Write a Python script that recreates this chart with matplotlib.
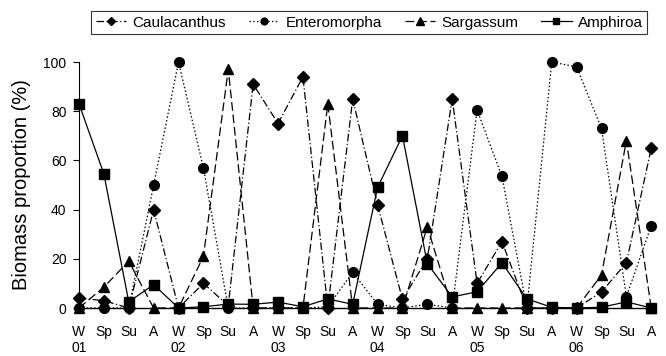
import matplotlib
matplotlib.use("Agg")
from matplotlib import pyplot as plt

plt.rcParams['font.family'] = ['Liberation Sans', 'DejaVu Sans']

seasons = ['W', 'Sp', 'Su', 'A'] * 6
years = ['01', '02', '03', '04', '05', '06']
tick_labels = [s + '\n' + years[i // 4] if s == 'W' else s for i, s in enumerate(seasons)]

caulacanthus = [4, 3, 0, 40, 0, 10, 1, 91, 75, 94, 0, 85,
                42, 3.5, 20, 85, 10, 27, 0, 0, 0, 6.5, 18.4, 65]
enteromorpha = [0, 0, 0, 50, 100, 57, 0, 0, 0, 0, 0.5, 14.5,
                1.5, 0, 1.5, 0, 80.5, 53.5, 0, 100, 98, 73, 4.6, 33.5]
sargassum = [0, 8.5, 19, 0, 0, 21, 97, 0, 0, 0, 83, 0,
             0, 0, 33, 0, 0, 0, 0, 0, 0, 13.4, 68, 0]
amphiroa = [83, 54.5, 2.5, 9.5, 0, 0.5, 1.6, 1.5, 2.4, 0.5, 3.7, 1.5,
            49, 70, 18, 4.5, 6.6, 18.4, 3.7, 0.3, 0, 0.3, 2.5, 0]

x = list(range(len(seasons)))

fig = plt.figure(figsize=(6.66, 3.56), dpi=100)
ax = fig.add_axes([79 / 666, 48 / 356, 576 / 666, 246 / 356])

lw = 0.9
ax.plot(x, caulacanthus, color='black', lw=lw, linestyle=(0, (6, 2, 1, 2)),
        marker='D', markersize=6, label='Caulacanthus', clip_on=False, zorder=3)
ax.plot(x, enteromorpha, color='black', lw=lw, linestyle=(0, (1.2, 1.8)),
        marker='o', markersize=7, label='Enteromorpha', clip_on=False, zorder=3)
ax.plot(x, sargassum, color='black', lw=lw, linestyle=(0, (7, 3)),
        marker='^', markersize=7.5, label='Sargassum', clip_on=False, zorder=3)
ax.plot(x, amphiroa, color='black', lw=lw, linestyle='-',
        marker='s', markersize=7, label='Amphiroa', clip_on=False, zorder=3)

ax.set_xlim(0, 23.15)
ax.set_ylim(0, 100)
ax.set_yticks([0, 20, 40, 60, 80, 100])
ax.set_xticks(x)
ax.set_xticklabels(tick_labels, fontsize=10, linespacing=1.25, va='top')
ax.tick_params(axis='x', length=0, pad=12)
ax.tick_params(axis='y', length=4, width=0.8, direction='out', pad=5, labelsize=10)
for s in ['top', 'right']:
    ax.spines[s].set_visible(False)
ax.spines['left'].set_linewidth(0.8)
ax.spines['bottom'].set_linewidth(1.0)

ax.set_ylabel('Biomass proportion (%)', fontsize=14.5, labelpad=9)

leg = fig.legend(loc='upper left', bbox_to_anchor=(91 / 666, 1 - 11 / 356), ncol=4,
                 frameon=True, fancybox=False, fontsize=11, handlelength=2.0,
                 columnspacing=1.5, handletextpad=0.4, borderpad=0.3,
                 borderaxespad=0, markerscale=0.7)
leg.get_frame().set_edgecolor('black')
leg.get_frame().set_linewidth(0.8)

fig.savefig('out.png', dpi=100)
